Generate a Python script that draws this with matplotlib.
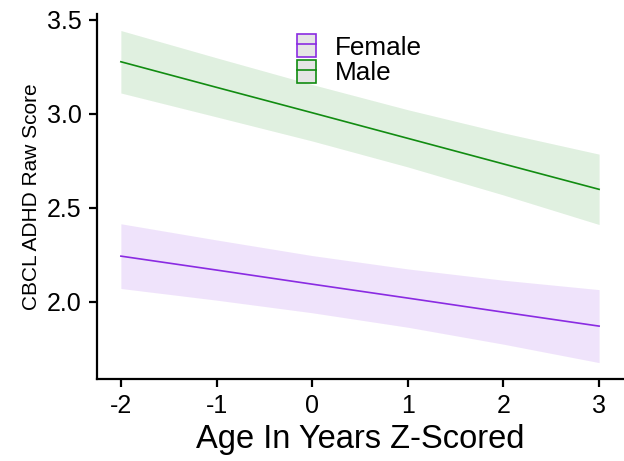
import matplotlib
matplotlib.use("Agg")
import matplotlib.pyplot as plt
from matplotlib.patches import Patch
from matplotlib.lines import Line2D

plt.rcParams['font.family'] = ['Liberation Sans', 'DejaVu Sans']

age = [-2, -1, 0, 1, 2, 3]
groups = ["Female", "Male"]
female_fit = [2.243, 2.169, 2.094, 2.020, 1.945, 1.871]
female_low = [2.071, 2.009, 1.942, 1.865, 1.775, 1.677]
female_high = [2.415, 2.329, 2.246, 2.175, 2.115, 2.065]
male_fit = [3.276, 3.140, 3.005, 2.869, 2.733, 2.598]
male_low = [3.110, 2.983, 2.855, 2.717, 2.568, 2.411]
male_high = [3.442, 3.297, 3.155, 3.021, 2.898, 2.785]
xticks = [-2, -1, 0, 1, 2, 3]
yticks = [2.0, 2.5, 3.0, 3.5]

colors = {"Female": "#8A2BE2", "Male": "#118C11"}

fig = plt.figure(figsize=(6.24, 4.61), dpi=100)
ax = fig.add_axes([0.1554, 0.1779, 0.843, 0.7918])

series = {
    "Female": (female_fit, female_low, female_high),
    "Male": (male_fit, male_low, male_high),
}
for g in groups:
    fit, lo, hi = series[g]
    ax.fill_between(age, lo, hi, color=colors[g], alpha=0.13, linewidth=0)
    ax.plot(age, fit, color=colors[g], linewidth=1.2)

ax.set_xlim(-2.25, 3.25)
ax.set_ylim(1.59, 3.53)
ax.set_xticks(xticks)
ax.set_xticklabels([str(t) for t in xticks])
ax.set_yticks(yticks)
ax.set_yticklabels([f"{t:.1f}" for t in yticks])
for s in ["top", "right"]:
    ax.spines[s].set_visible(False)
for s in ["left", "bottom"]:
    ax.spines[s].set_linewidth(1.6)
ax.tick_params(axis="both", length=6, width=1.6, labelsize=18, colors="black")
ax.tick_params(axis="x", pad=5)
ax.tick_params(axis="y", pad=5)
ax.set_xlabel("Age In Years Z-Scored", fontsize=23.5, labelpad=4)
ax.set_ylabel("CBCL ADHD Raw Score", fontsize=15, labelpad=4)

handles = [(Patch(facecolor="#E5E5E5", edgecolor=colors[g], linewidth=1.2),
            Line2D([], [], color=colors[g], linewidth=1.2)) for g in groups]
ax.legend(handles, groups, loc="upper left", bbox_to_anchor=(0.361, 0.974),
          frameon=False, fontsize=18.8, handlelength=0.72, handleheight=1.0,
          labelspacing=0.0, handletextpad=0.72, borderaxespad=0)

fig.savefig("out.png", dpi=100)
